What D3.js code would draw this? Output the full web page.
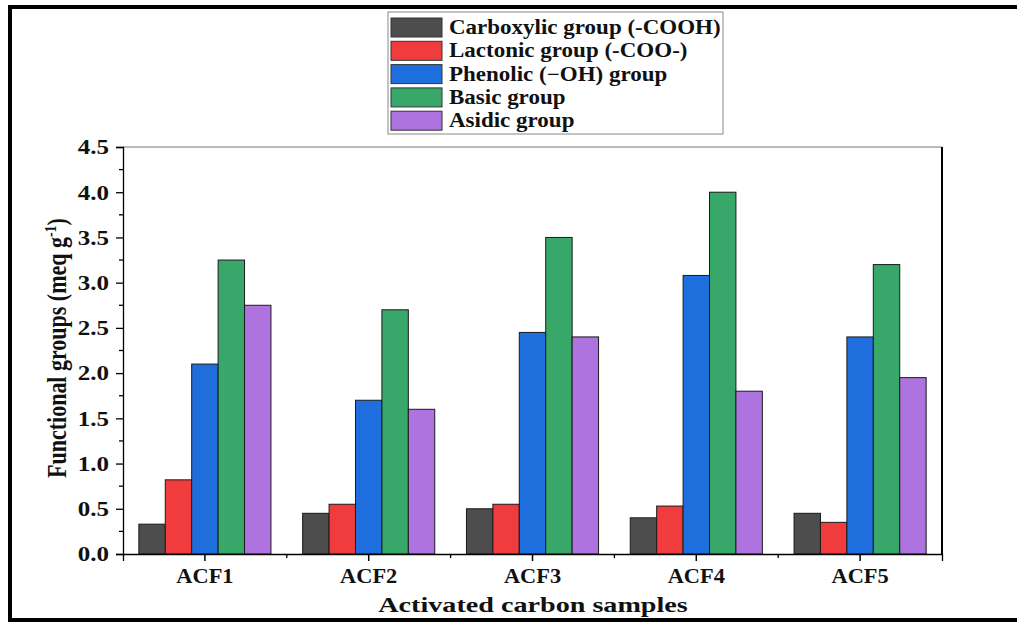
<!DOCTYPE html>
<html>
<head>
<meta charset="utf-8">
<script src="https://d3js.org/d3.v7.min.js"></script>
<style>
body{margin:0;background:#fff;}
svg text{font-family:"Liberation Serif","Times New Roman",serif;font-weight:bold;}
</style>
</head>
<body>
<svg width="1017" height="623"></svg>
<script>
var samples = ["ACF1","ACF2","ACF3","ACF4","ACF5"];
var groups = ["Carboxylic group (-COOH)","Lactonic group (-COO-)","Phenolic (\u2212OH) group","Basic group","Asidic group"];
var colors = ["#4d4d4d","#f03c3c","#1e6fdd","#38a86a","#ae73df"];
// values per group, in sample order
var carboxylic = [0.33,0.45,0.50,0.40,0.45];
var lactonic   = [0.82,0.55,0.55,0.53,0.35];
var phenolic   = [2.10,1.70,2.45,3.08,2.40];
var basic      = [3.25,2.70,3.50,4.00,3.20];
var asidic     = [2.75,1.60,2.40,1.80,1.95];
var series = [carboxylic,lactonic,phenolic,basic,asidic];
var yTicks = [0,0.5,1,1.5,2,2.5,3,3.5,4,4.5];

var svg = d3.select("svg");

// outer frame
svg.append("rect").attr("x",10).attr("y",7).attr("width",1020).attr("height",613)
  .attr("fill","none").attr("stroke","#000").attr("stroke-width",4);

var pL=123, pR=942, pT=147, pB=554;

var x = d3.scaleBand().domain(samples).range([pL,pR]).padding(0);
var xs = d3.scaleBand().domain(groups).range([0,x.bandwidth()]).paddingInner(0).paddingOuter(0.6);
var y = d3.scaleLinear().domain([0,4.5]).range([pB,pT]);

// the source picture is stretched sideways, so text is too
function stretch(sel, f){
  sel.each(function(){
    var t = d3.select(this);
    var tx = +t.attr("x")||0, ty = +t.attr("y")||0;
    t.attr("x",0).attr("y",0).attr("transform","translate("+tx+","+ty+") scale("+f+",1)");
  });
}

// frame lines
svg.append("line").attr("x1",pL).attr("x2",pR).attr("y1",pT).attr("y2",pT)
  .attr("stroke","#777").attr("stroke-width",1);
svg.append("line").attr("x1",pR).attr("x2",pR).attr("y1",pT).attr("y2",pB)
  .attr("stroke","#000").attr("stroke-width",2);

// bars
var g = svg.append("g");
samples.forEach(function(s,i){
  g.selectAll(null).data(series).enter().append("rect")
    .attr("x",function(d,j){return x(s)+xs(groups[j]);})
    .attr("y",function(d){return y(d[i]);})
    .attr("width",xs.bandwidth())
    .attr("height",function(d){return pB-y(d[i]);})
    .attr("fill",function(d,j){return colors[j];})
    .attr("stroke","#1a1a1a").attr("stroke-width",1);
});

// y axis
var yAxis = d3.axisLeft(y).tickValues(yTicks).tickFormat(d3.format(".1f")).tickSize(7).tickPadding(7);
var ya = svg.append("g").attr("transform","translate("+pL+",0)").call(yAxis);
ya.select(".domain").attr("stroke","#000").attr("stroke-width",1.3);
ya.selectAll(".tick line").attr("stroke","#000").attr("stroke-width",1.3);
ya.selectAll("text").style("font-size","20px").attr("fill","#111").attr("dy","0.34em");
stretch(ya.selectAll("text"),1.25);
var yMinor = d3.range(0.25,4.5,0.5);
svg.append("g").selectAll("line").data(yMinor).enter().append("line")
  .attr("x1",pL-4).attr("x2",pL).attr("y1",function(d){return y(d);}).attr("y2",function(d){return y(d);})
  .attr("stroke","#000").attr("stroke-width",1.3);

// x axis
var xAxis = d3.axisBottom(x).tickSize(7).tickPadding(8);
var xa = svg.append("g").attr("transform","translate(0,"+pB+")").call(xAxis);
xa.select(".domain").attr("stroke","#000").attr("stroke-width",1.3);
xa.selectAll(".tick line").attr("stroke","#000").attr("stroke-width",1.5);
xa.selectAll("text").style("font-size","20px").attr("fill","#111");
stretch(xa.selectAll("text"),1.12);
svg.append("g").selectAll("line").data(samples.slice(1)).enter().append("line")
  .attr("x1",function(d){return x(d);}).attr("x2",function(d){return x(d);})
  .attr("y1",pB).attr("y2",pB+4).attr("stroke","#000").attr("stroke-width",1.3);

// axis titles
var xt = svg.append("text").attr("x",533).attr("y",612).attr("text-anchor","middle")
  .style("font-size","22px").attr("fill","#111").text("Activated carbon samples");
stretch(xt,1.28);
var yt = svg.append("text").attr("transform","translate(66,348) scale(1.2,1) rotate(-90)").attr("text-anchor","middle")
  .style("font-size","22px").attr("fill","#111");
yt.append("tspan").text("Functional groups (meq g");
yt.append("tspan").attr("dy",-8).style("font-size","14px").text("-1");
yt.append("tspan").attr("dy",8).text(")");

// legend
var lg = svg.append("g");
lg.append("rect").attr("x",388).attr("y",12).attr("width",335).attr("height",122)
  .attr("fill","#fff").attr("stroke","#888").attr("stroke-width",1);
var rows = lg.selectAll("g").data(groups).enter().append("g")
  .attr("transform",function(d,i){return "translate(391,"+(18+i*23.3)+")";});
rows.append("rect").attr("width",51).attr("height",19)
  .attr("fill",function(d,i){return colors[i];}).attr("stroke","#333").attr("stroke-width",1);
var lt = rows.append("text").attr("x",58).attr("y",16).style("font-size","20px").attr("fill","#111")
  .text(function(d){return d;});
stretch(lt,1.15);
</script>
</body>
</html>
